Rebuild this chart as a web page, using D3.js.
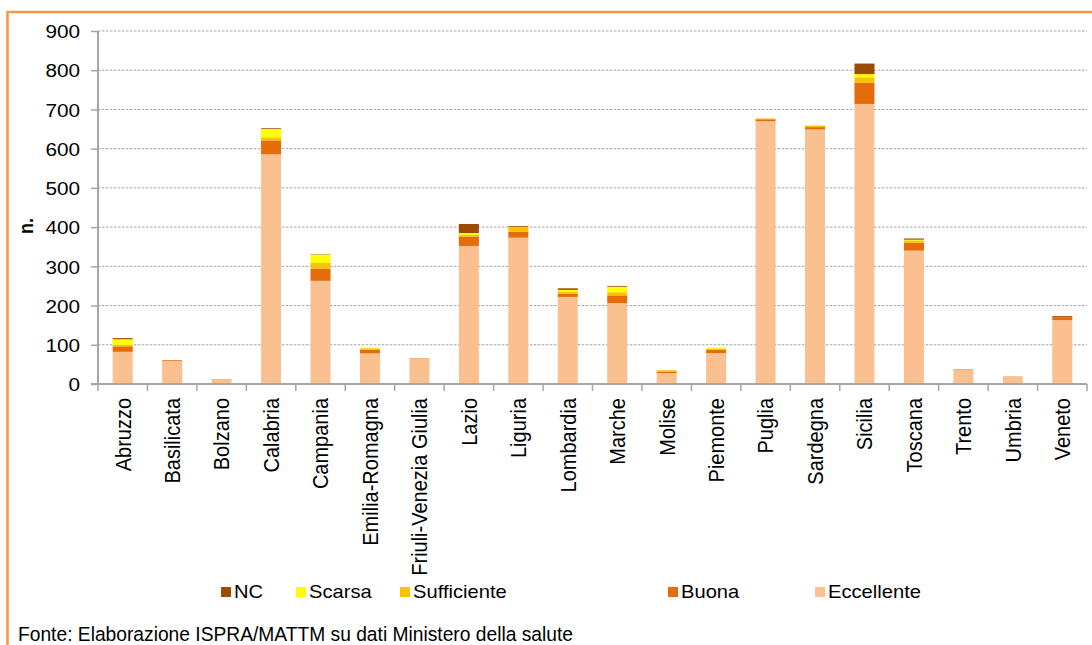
<!DOCTYPE html>
<html lang="it">
<head>
<meta charset="UTF-8">
<title>Acque di balneazione per classe di qualità</title>
<script src="https://cdn.jsdelivr.net/npm/d3@7"></script>
<style>
  html, body { margin: 0; padding: 0; background: #fff; overflow: hidden; }
  svg { display: block; font-family: "Liberation Sans", Arial, sans-serif; }
</style>
</head>
<body>
<svg id="chart" width="1092" height="645"></svg>
<script>
// dati
const categories = ['Abruzzo', 'Basilicata', 'Bolzano', 'Calabria', 'Campania', 'Emilia-Romagna',
  'Friuli-Venezia Giulia', 'Lazio', 'Liguria', 'Lombardia', 'Marche', 'Molise', 'Piemonte',
  'Puglia', 'Sardegna', 'Sicilia', 'Toscana', 'Trento', 'Umbria', 'Veneto'];
const eccellente  = [82, 59, 11, 586, 263, 78, 65, 352, 373, 222, 206, 28, 79, 670, 649, 714, 340, 37, 20, 163];
const buona       = [14, 2, 1, 35, 31, 10, 1, 24, 15, 8, 20, 4, 8, 5, 6, 54, 20, 1, 0, 7];
const sufficiente = [4, 0, 0, 8, 15, 3, 0, 4, 13, 5, 8, 3, 3, 2, 4, 14, 6, 0, 0, 0];
const scarsa      = [14, 0, 0, 21, 21, 2, 0, 5, 0, 5, 14, 0, 3, 0, 1, 8, 2, 0, 0, 0];
const nc          = [3, 0, 0, 2, 1, 0, 0, 23, 2, 4, 2, 0, 0, 0, 0, 27, 3, 0, 0, 3];
const yTicks = [0, 100, 200, 300, 400, 500, 600, 700, 800, 900];
const seriesNames = ['Eccellente', 'Buona', 'Sufficiente', 'Scarsa', 'NC'];
const legendOrder = ['NC', 'Scarsa', 'Sufficiente', 'Buona', 'Eccellente'];

const colors = {
  NC: '#9C4A06', Scarsa: '#FFFF00', Sufficiente: '#FFC000',
  Buona: '#E46C0A', Eccellente: '#FAC090'
};
const legendX = [221, 296, 400, 668, 815];
const sx = 1.12; // testo leggermente allargato come nell'originale

const svg = d3.select('#chart');

// cornice arancione
svg.append('rect')
  .attr('x', 7.5).attr('y', 12)
  .attr('width', 1200).attr('height', 800)
  .attr('fill', 'none')
  .attr('stroke', '#F79646')
  .attr('stroke-width', 2.5);

const table = categories.map((c, i) => ({
  cat: c,
  Eccellente: eccellente[i], Buona: buona[i], Sufficiente: sufficiente[i],
  Scarsa: scarsa[i], NC: nc[i]
}));

const plotLeft = 98, plotRight = 1087, plotTop = 31, plotBottom = 384;
const x = d3.scaleBand().domain(categories).range([plotLeft, plotRight])
  .paddingInner(0.595).paddingOuter(0.2975);
const y = d3.scaleLinear().domain([0, 900]).range([plotBottom, plotTop]);
const step = x.step();

// griglia tratteggiata
svg.append('g')
  .selectAll('line')
  .data(yTicks.filter(d => d > 0))
  .join('line')
  .attr('x1', plotLeft).attr('x2', plotRight)
  .attr('y1', d => y(d)).attr('y2', d => y(d))
  .attr('stroke', '#a0a0a0')
  .attr('stroke-width', 1)
  .attr('stroke-dasharray', '2.5,1.5');

// barre impilate
const stacked = d3.stack().keys(seriesNames)(table);
svg.append('g')
  .selectAll('g')
  .data(stacked)
  .join('g')
  .attr('fill', d => colors[d.key])
  .selectAll('rect')
  .data(d => d)
  .join('rect')
  .attr('x', d => x(d.data.cat))
  .attr('width', x.bandwidth())
  .attr('y', d => y(d[1]))
  .attr('height', d => y(d[0]) - y(d[1]));

// asse y
const yAxis = svg.append('g')
  .attr('transform', `translate(${plotLeft},0)`)
  .call(d3.axisLeft(y).tickValues(yTicks).tickSize(7).tickPadding(0));
yAxis.select('.domain').attr('stroke', '#a6a6a6').attr('stroke-width', 2)
  .attr('d', `M0,${plotBottom + 1}V${plotTop}`);
yAxis.selectAll('.tick line').attr('stroke', '#a6a6a6').attr('stroke-width', 1.5);
yAxis.selectAll('.tick text')
  .attr('x', -18 / sx)
  .attr('dy', '0.36em')
  .attr('transform', `scale(${sx},1)`)
  .attr('fill', '#000')
  .style('font-size', '18.5px')
  .style('font-family', '"Liberation Sans", Arial, sans-serif');

// asse x
const xAxis = svg.append('g')
  .attr('transform', `translate(0,${plotBottom})`)
  .call(d3.axisBottom(x).tickSize(0).tickPadding(0));
xAxis.select('.domain').attr('stroke', '#a6a6a6').attr('stroke-width', 2)
  .attr('d', `M${plotLeft - 7},0H${plotRight}`);
xAxis.selectAll('.tick text')
  .attr('y', 0).attr('dy', 0)
  .attr('text-anchor', 'end')
  .attr('transform', `translate(0,14) scale(${sx},1) rotate(-90) translate(0,7)`)
  .attr('fill', '#000')
  .style('font-size', '20px')
  .style('font-family', '"Liberation Sans", Arial, sans-serif');

// tacche tra le categorie
xAxis.append('g')
  .selectAll('line')
  .data(categories.concat(['__end']))
  .join('line')
  .attr('x1', (d, i) => plotLeft + i * step)
  .attr('x2', (d, i) => plotLeft + i * step)
  .attr('y1', 0).attr('y2', 7)
  .attr('stroke', '#a6a6a6')
  .attr('stroke-width', 1.5);

// titolo asse y
svg.append('text')
  .attr('transform', `translate(33,226) scale(${sx},1) rotate(-90)`)
  .attr('text-anchor', 'middle')
  .style('font-size', '18px')
  .style('font-weight', 'bold')
  .text('n.');

// legenda
const legend = svg.append('g')
  .selectAll('g')
  .data(legendOrder)
  .join('g')
  .attr('transform', (d, i) => `translate(${legendX[i]},592)`);
legend.append('rect')
  .attr('x', 0).attr('y', -5)
  .attr('width', 10).attr('height', 10)
  .attr('fill', d => colors[d]);
legend.append('text')
  .attr('transform', `translate(13,0) scale(${sx},1)`)
  .attr('dy', '0.36em')
  .style('font-size', '18px')
  .text(d => d);

// fonte
svg.append('text')
  .attr('x', 18).attr('y', 641)
  .attr('textLength', 555)
  .attr('lengthAdjust', 'spacingAndGlyphs')
  .style('font-size', '20.5px')
  .text('Fonte: Elaborazione ISPRA/MATTM su dati Ministero della salute');
</script>
</body>
</html>
